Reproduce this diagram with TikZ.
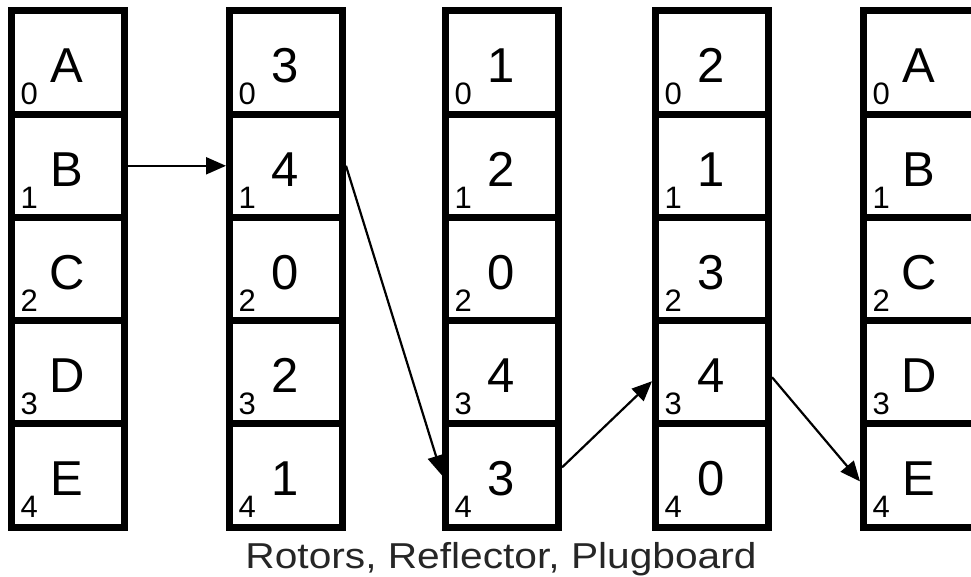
\documentclass[tikz,border=0pt]{standalone}
\usepackage{fontspec}
\setmainfont{Liberation Sans}
\usetikzlibrary{arrows.meta}
\begin{document}
\begin{tikzpicture}[x=1pt,y=-1pt,
  cell/.style={draw=black,line width=7pt,rectangle,minimum width=113pt,
    minimum height=103.2pt,inner sep=0pt},
  glyph/.style={anchor=base,inner sep=0pt,font=\fontsize{49}{50}\selectfont},
  idx/.style={anchor=base west,inner sep=0pt,font=\fontsize{31}{32}\selectfont},
  wire/.style={line width=2.2pt,-{Triangle[length=20pt,width=17pt]}},
  caption/.style={anchor=base,inner sep=0pt,text=black!85,xscale=1.13,
    font=\fontsize{36}{37}\selectfont}]

\useasboundingbox (0,0) rectangle (971,577);
\clip (0,0) rectangle (971,577);

% five columns of five cells; each cell shows its entry and its row index
\foreach \cc/\x/\entries in {1/11.5/{A,B,C,D,E},
                             2/229.5/{3,4,0,2,1},
                             3/445.5/{1,2,0,4,3},
                             4/655.5/{2,1,3,4,0},
                             5/863.5/{A,B,C,D,E}}{
  \foreach \v [count=\row from 0] in \entries {
    \node[cell] (c\cc-\row) at ({\x+56.5},{11+103.2*\row+51.6}) {};
    \node[glyph] (g\cc-\row) at ({\x+55.5},{11+103.2*\row+72}) {\v};
    \node[idx] (i\cc-\row) at ({\x+9},{11+103.2*\row+94}) {\row};
  }
}

% signal path through the stages
\draw[wire] (c1-1.east) -- (c2-1.west);
\draw[wire] (c2-1.east) -- (c3-4.west);
\draw[wire] ([yshift=8pt]c3-4.east) -- ([yshift=-9pt]c4-3.west);
\draw[wire] ([yshift=-5pt]c4-3.east) -- ([yshift=-6pt]c5-4.west);

\node[caption] (cap) at (501,568) {Rotors, Reflector, Plugboard};
\end{tikzpicture}
\end{document}
